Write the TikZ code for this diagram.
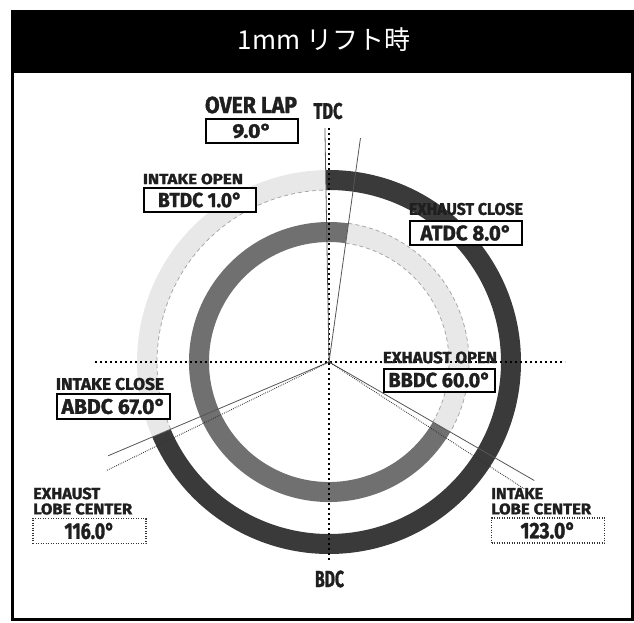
\documentclass[tikz,border=0pt]{standalone}
\usepackage{fontspec}
\usepackage{graphicx}
\newfontfamily\lblfont{Fira Sans}[BoldFeatures={FakeBold=1.5}]
\newfontfamily\jpfont{Noto Sans CJK JP}
\definecolor{ringdark}{HTML}{3A3A3A}
\definecolor{ringmid}{HTML}{707070}
\definecolor{ringlight}{HTML}{E8E8E8}
\definecolor{dashgray}{HTML}{A8A8A8}
\definecolor{linegray}{HTML}{555555}
\def\fitlbl#1#2#3{\resizebox{#1pt}{#2pt}{\lblfont\bfseries #3}}
\tikzset{
  ring/.style={line width=20pt},
  edgedash/.style={dashgray, line width=0.8pt, dash pattern=on 4pt off 3pt},
  angleline/.style={linegray, line width=0.8pt},
  lobeline/.style={black!80, line width=0.9pt, dash pattern=on 0.8pt off 1.2pt},
  refline/.style={black, line width=1.1pt, dash pattern=on 2pt off 3pt},
  lbl/.style={inner sep=0pt, text=black!88},
  valbox/.style={draw, line width=2pt, fill=white, inner sep=0pt, minimum width=112pt, minimum height=24pt, text=black!88},
  lobebox/.style={draw, black!80, line width=1.2pt, dash pattern=on 1pt off 1.5pt, fill=white, inner sep=0pt, minimum width=113pt, minimum height=25pt, text=black!88}
}

\begin{document}
\begin{tikzpicture}[x=1pt,y=-1pt]
			%%%%% START %%%%%
			\useasboundingbox (0,0) rectangle (634,622);
			
			\fill[black] (11,10) rectangle (634,73);
			\draw[line width=3pt] (12.5,11.5) rectangle (632.5,619.5);
			\node[text=white, font=\jpfont\fontsize{26}{30}\selectfont] (title) at (324,40) {1mm リフト時};
			
			\coordinate (C) at (329,362);
			
			% outer ring
			\draw[ring, ringdark] (C) ++(-91:182) arc[start angle=-91, end angle=157, radius=182];
			\draw[ring, ringlight] (C) ++(157:182) arc[start angle=157, end angle=269, radius=182];
			\draw[edgedash] (C) ++(157:172) arc[start angle=157, end angle=269, radius=172];
			
			% inner ring
			\draw[ring, ringmid] (C) ++(30:130) arc[start angle=30, end angle=278, radius=130];
			\draw[ring, ringlight] (C) ++(-82:130) arc[start angle=-82, end angle=30, radius=130];
			\draw[edgedash] (C) ++(-82:140) arc[start angle=-82, end angle=30, radius=140];
			\draw[edgedash] (C) ++(-82:120) arc[start angle=-82, end angle=30, radius=120];
			
			\coordinate (tdc) at (329,128);
			\coordinate (bdc) at (329,562);
			\coordinate (west) at (95,362);
			\coordinate (east) at (565,362);
			\draw[refline] (tdc) -- (bdc);
			\draw[refline] (west) -- (east);
			
			\draw[angleline] (C) -- ++(-91:234);
			\draw[angleline] (C) -- ++(-82:226);
			\draw[angleline] (C) -- ++(30:237);
			\draw[angleline] (C) -- ++(157:240);
			\draw[lobeline] (C) -- ++(33:233);
			\draw[lobeline] (C) -- ++(154:248);
			
			\node[lbl] (ovl) at (251,105) {\fitlbl{92}{16.5}{OVER LAP}};
			\node[valbox, minimum width=92pt] (ovb) at (252,131) {\fitlbl{39}{14}{9.0°}};
			\node[lbl] (tdcl) at (328,111) {\fitlbl{29}{16}{TDC}};
			
			\node[lbl] (iol) at (193,179) {\fitlbl{100}{10.5}{INTAKE OPEN}};
			\node[valbox] (iob) at (200,200) {\fitlbl{84}{14.5}{BTDC 1.0°}};
			
			\node[lbl] (ecl) at (466,209) {\fitlbl{114}{12}{EXHAUST CLOSE}};
			\node[valbox] (ecb) at (466,233) {\fitlbl{91}{15}{ATDC 8.0°}};
			
			\node[lbl] (eol) at (440,357.5) {\fitlbl{114}{11.5}{EXHAUST OPEN}};
			\node[valbox, minimum width=111pt, minimum height=23pt] (eob) at (439.5,380) {\fitlbl{102}{14.5}{BBDC 60.0°}};
			
			\node[lbl] (icl) at (110,384) {\fitlbl{108}{12}{INTAKE CLOSE}};
			\node[valbox, minimum width=113pt, minimum height=25pt] (icb) at (113.5,406.5) {\fitlbl{104}{15}{ABDC 67.0°}};
			
			\node[lbl, anchor=west] (elt) at (33,493.5) {\fitlbl{67}{11.5}{EXHAUST}};
			\node[lbl, anchor=west] (elb) at (33,509) {\fitlbl{99}{11}{LOBE CENTER}};
			\node[lobebox] (elv) at (89.5,531) {\fitlbl{50}{16}{116.0°}};
			
			\node[lbl, anchor=west] (ilt) at (491,493.5) {\fitlbl{52}{11}{INTAKE}};
			\node[lbl, anchor=west] (ilb) at (491,509) {\fitlbl{100}{11}{LOBE CENTER}};
			\node[lobebox] (ilv) at (548,530.5) {\fitlbl{55}{16}{123.0°}};
			
			\node[lbl] (bdcl) at (329.5,579) {\fitlbl{29}{16.5}{BDC}};
			%%%%% END %%%%%
\end{tikzpicture}
\end{document}
